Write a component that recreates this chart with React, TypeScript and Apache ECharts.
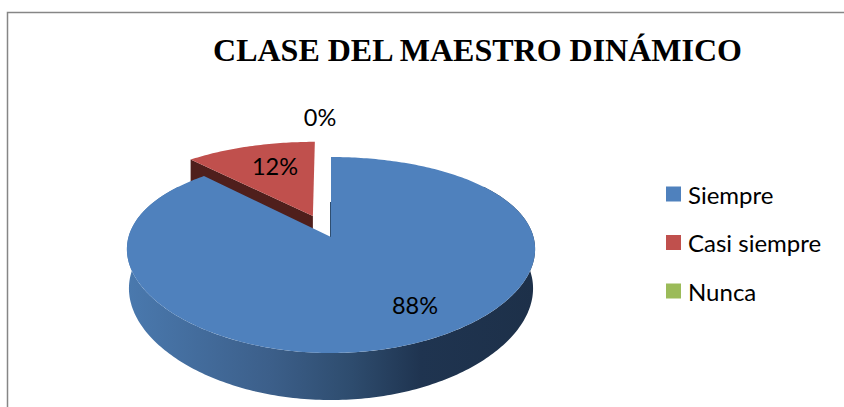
import React, { useEffect, useRef } from "react";
import * as echarts from "echarts";

const titleText = "CLASE DEL MAESTRO DINÁMICO";
const categories = ["Siempre", "Casi siempre", "Nunca"];
const percentages = [88, 12, 0];
const colors = ["#4f81bd", "#c0504d", "#9bbb59"];

// Projection of the tilted disc onto the page.
const CX = 331, CY = 237, RX = 202.5, A = 94.7, KX = 0.125, KY = 0.1837, DEPTH = 38.4;
const EXPLODE = 0.25;
const FONT = "Lato, 'Noto Sans', sans-serif";

function project(u: number, v: number, drop = 0, shrink = 1): number[] {
  const x = CX + (shrink * RX * u) / (1 - KX * v);
  const y = CY + (A * v + drop) / (1 - KY * v);
  return [x, y];
}

const TOTAL = percentages.reduce((s, p) => s + p, 0);

function startAngle(index: number): number {
  let sum = 0;
  for (let i = 0; i < index; i++) sum += percentages[i];
  return (sum / TOTAL) * Math.PI * 2;
}

function arc(a0: number, a1: number, ox: number, oy: number, drop = 0, shrink = 1): number[][] {
  const pts: number[][] = [];
  const n = Math.max(2, Math.ceil(Math.abs(a1 - a0) * 60));
  for (let i = 0; i <= n; i++) {
    const t = a0 + ((a1 - a0) * i) / n;
    pts.push(project(Math.sin(t) + ox, -Math.cos(t) + oy, drop, shrink));
  }
  return pts;
}

// Page offset of each percentage label from the disc's own centre.
const labelOffsets = [
  [84, 68],
  [-56, -71],
  [-11, -120],
];

function renderSlice(index: number) {
  return (_params: any, api: any) => {
    const value = api.value(0) as number;
    const a0 = startAngle(index);
    const a1 = a0 + (value / TOTAL) * Math.PI * 2;
    const mid = (a0 + a1) / 2;
    const children: any[] = [];
    const label = {
      type: "text",
      z2: 10,
      style: {
        text: `${value}%`,
        x: CX + labelOffsets[index][0],
        y: CY + labelOffsets[index][1],
        align: "center",
        verticalAlign: "middle",
        font: `23.5px ${FONT}`,
        fill: "#000000",
      },
    };
    if (value > 0 && index === 0) {
      const strip = [
        ...arc(Math.PI * 0.3, Math.PI * 1.7, 0, 0),
        ...arc(Math.PI * 1.7, Math.PI * 0.3, 0, 0, DEPTH, 0.99),
      ];
      children.push({
        type: "polygon",
        shape: { points: strip },
        style: {
          fill: new echarts.graphic.LinearGradient(0, 0, 1, 0, [
            { offset: 0, color: "#4a79ae" },
            { offset: 0.35, color: "#3c5f8a" },
            { offset: 0.55, color: "#2e4c6e" },
            { offset: 0.72, color: "#1f3450" },
            { offset: 1, color: "#1d3049" },
          ]),
        },
      });
      children.push({
        type: "line",
        shape: { x1: CX - 0.5, y1: CY, x2: CX - 0.5, y2: CY - 35 },
        style: { stroke: "#2f4e70", lineWidth: 1 },
      });
      children.push({
        type: "polygon",
        shape: { points: [[CX, CY], ...arc(a0, a1, 0, 0)] },
        style: { fill: colors[index] },
      });
    } else if (value > 0) {
      const ox = Math.sin(mid) * EXPLODE;
      const oy = -Math.cos(mid) * EXPLODE;
      const apex = project(ox, oy);
      const apexLow = project(ox, oy, DEPTH);
      const corner = project(Math.sin(a0) + ox, -Math.cos(a0) + oy);
      const cornerLow = project(Math.sin(a0) + ox, -Math.cos(a0) + oy, DEPTH);
      children.push({
        type: "polygon",
        shape: { points: [apex, corner, cornerLow, apexLow] },
        style: { fill: "#4f1f1c" },
      });
      children.push({
        type: "polygon",
        shape: { points: [apex, ...arc(a0, a1, ox, oy)] },
        style: { fill: colors[index] },
      });
    }
    children.push(label);
    return { type: "group", children };
  };
}

export default function App() {
  const ref = useRef<HTMLDivElement>(null);
  useEffect(() => {
    const chart = echarts.init(ref.current!, null, { renderer: "svg" });
    chart.setOption({
      animation: false,
      backgroundColor: "#ffffff",
      title: {
        text: titleText,
        left: 472.5,
        top: 29,
        textAlign: "center",
        textStyle: {
          fontFamily: "'Liberation Serif', serif",
          fontWeight: "bold",
          fontSize: 32,
          color: "#000000",
        },
      },
      legend: {
        orient: "vertical",
        left: 661,
        top: 177,
        itemWidth: 15,
        itemHeight: 15,
        itemGap: 24.5,
        icon: "rect",
        data: categories,
        textStyle: { fontFamily: FONT, fontSize: 24, color: "#000000", padding: [0, 0, 0, 2] },
      },
      graphic: [
        {
          type: "polyline",
          silent: true,
          shape: { points: [[7.5, 407], [7.5, 12.5], [844, 12.5]] },
          style: { stroke: "#868686", lineWidth: 1.5, fill: "none" },
        },
      ],
      series: categories.map((name, i) => ({
        type: "custom",
        name,
        coordinateSystem: "none",
        // the exploded wedge sits behind the main disc
        z: i === 0 ? 3 : 2,
        silent: true,
        itemStyle: { color: colors[i] },
        data: [[percentages[i]]],
        renderItem: renderSlice(i),
      })),
    });
    return () => chart.dispose();
  }, []);
  return (
    <div
      ref={ref}
      style={{ position: "absolute", left: 0, top: 0, width: 844, height: 407 }}
    />
  );
}
